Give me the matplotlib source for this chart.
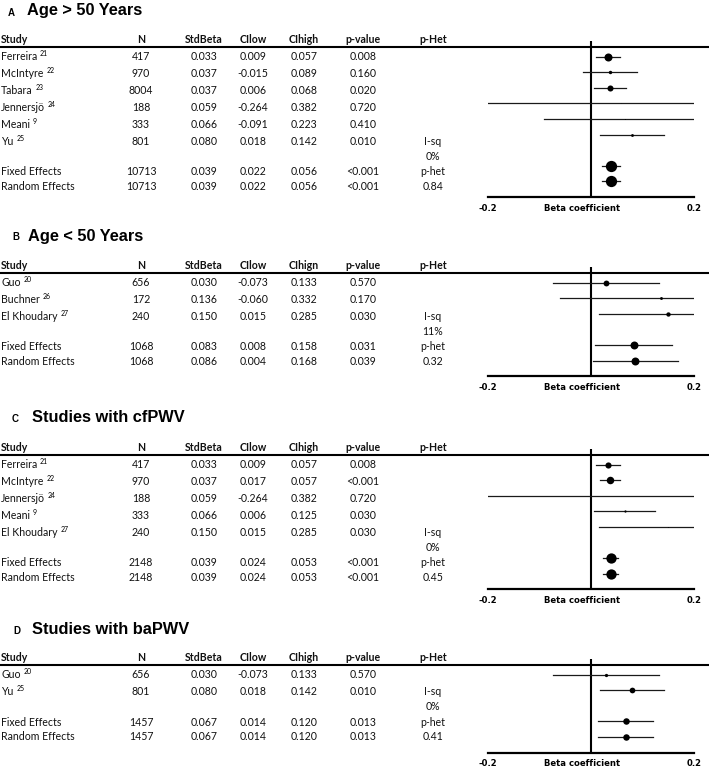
import numpy as np
import matplotlib.pyplot as plt

# A: age > 50 years
a_study = ["Ferreira", "McIntyre", "Tabara", "Jennersjö", "Meani", "Yu"]
a_ref = ["21", "22", "23", "24", "9", "25"]
a_n = [417, 970, 8004, 188, 333, 801]
a_beta = [0.033, 0.037, 0.037, 0.059, 0.066, 0.080]
a_low = [0.009, -0.015, 0.006, -0.264, -0.091, 0.018]
a_high = [0.057, 0.089, 0.068, 0.382, 0.223, 0.142]
a_p = ["0.008", "0.160", "0.020", "0.720", "0.410", "0.010"]
a_pool_n = [10713, 10713]
a_pool_beta = [0.039, 0.039]
a_pool_low = [0.022, 0.022]
a_pool_high = [0.056, 0.056]
a_pool_p = ["<0.001", "<0.001"]
a_isq, a_phet = "0%", "0.84"

# B: age < 50 years
b_study = ["Guo", "Buchner", "El Khoudary"]
b_ref = ["20", "26", "27"]
b_n = [656, 172, 240]
b_beta = [0.030, 0.136, 0.150]
b_low = [-0.073, -0.060, 0.015]
b_high = [0.133, 0.332, 0.285]
b_p = ["0.570", "0.170", "0.030"]
b_pool_n = [1068, 1068]
b_pool_beta = [0.083, 0.086]
b_pool_low = [0.008, 0.004]
b_pool_high = [0.158, 0.168]
b_pool_p = ["0.031", "0.039"]
b_isq, b_phet = "11%", "0.32"

# C: studies with cfPWV
c_study = ["Ferreira", "McIntyre", "Jennersjö", "Meani", "El Khoudary"]
c_ref = ["21", "22", "24", "9", "27"]
c_n = [417, 970, 188, 333, 240]
c_beta = [0.033, 0.037, 0.059, 0.066, 0.150]
c_low = [0.009, 0.017, -0.264, 0.006, 0.015]
c_high = [0.057, 0.057, 0.382, 0.125, 0.285]
c_p = ["0.008", "<0.001", "0.720", "0.030", "0.030"]
c_pool_n = [2148, 2148]
c_pool_beta = [0.039, 0.039]
c_pool_low = [0.024, 0.024]
c_pool_high = [0.053, 0.053]
c_pool_p = ["<0.001", "<0.001"]
c_isq, c_phet = "0%", "0.45"

# D: studies with baPWV
d_study = ["Guo", "Yu"]
d_ref = ["20", "25"]
d_n = [656, 801]
d_beta = [0.030, 0.080]
d_low = [-0.073, 0.018]
d_high = [0.133, 0.142]
d_p = ["0.570", "0.010"]
d_pool_n = [1457, 1457]
d_pool_beta = [0.067, 0.067]
d_pool_low = [0.014, 0.014]
d_pool_high = [0.120, 0.120]
d_pool_p = ["0.013", "0.013"]
d_isq, d_phet = "0%", "0.41"

letters = ["A", "B", "C", "D"]
titles = ["Age > 50 Years", "Age < 50 Years", "Studies with cfPWV", "Studies with baPWV"]
headers = ["Study", "N", "StdBeta", "CIlow", "CIhigh", "p-value", "p-Het"]
headers_b = ["Study", "N", "StdBeta", "CIlow", "CIhign", "p-value", "p-Het"]
pool_names = ["Fixed Effects", "Random Effects"]

panels = [
    (a_study, a_ref, a_n, a_beta, a_low, a_high, a_p,
     a_pool_n, a_pool_beta, a_pool_low, a_pool_high, a_pool_p, a_isq, a_phet, headers),
    (b_study, b_ref, b_n, b_beta, b_low, b_high, b_p,
     b_pool_n, b_pool_beta, b_pool_low, b_pool_high, b_pool_p, b_isq, b_phet, headers_b),
    (c_study, c_ref, c_n, c_beta, c_low, c_high, c_p,
     c_pool_n, c_pool_beta, c_pool_low, c_pool_high, c_pool_p, c_isq, c_phet, headers),
    (d_study, d_ref, d_n, d_beta, d_low, d_high, d_p,
     d_pool_n, d_pool_beta, d_pool_low, d_pool_high, d_pool_p, d_isq, d_phet, headers),
]

# layout in pixels (figure is 709 x 770)
W, H = 709, 770
head_y = [39, 265, 447, 657]
title_y = [11, 236, 418, 630]
letter_x = [8, 12, 12, 13]
title_x = [27, 28, 32, 32]
col_x = [1, 141, 204, 253, 304, 363, 433]
plot_x0, plot_x1 = 488, 694
row_step = 15.6
TXT = "Lato"
TXT_SIZE = 7.6

fig = plt.figure(figsize=(W / 100, H / 100), dpi=100)
bg = fig.add_axes([0, 0, 1, 1])
bg.set_xlim(0, W)
bg.set_ylim(H, 0)
bg.axis("off")


def cell(x, y, s, bold=False, left=False):
    return bg.text(x, y + 3.7, s, family=TXT, fontsize=TXT_SIZE,
                   fontweight="bold" if bold else "normal",
                   ha="left" if left else "center", va="baseline", color="#111111")


for k, p in enumerate(panels):
    (study, ref, n, beta, low, high, pv,
     pn, pbeta, plow, phigh, ppv, isq, phet, heads) = p
    h = head_y[k]

    bg.text(letter_x[k], title_y[k] + 1.5, letters[k], family="Liberation Sans",
            fontsize=7, fontweight="bold", va="center")
    bg.text(title_x[k], title_y[k], titles[k], family="Liberation Sans",
            fontsize=11.8, fontweight="bold", va="center")

    for j, head in enumerate(heads):
        cell(col_x[j], h, head, bold=True, left=(j == 0))
    bg.plot([0, W], [h + 8, h + 8], color="black", lw=1.5, solid_capstyle="butt")

    # table body
    rows_y = [h + 17.5 + 16.9 * i for i in range(len(study))]
    for i, y in enumerate(rows_y):
        t = cell(col_x[0], y, study[i], left=True)
        bg.annotate(ref[i], xy=(1, 1), xycoords=t, xytext=(2, 0.8),
                    textcoords="offset points", family=TXT, fontsize=5,
                    ha="left", va="top")
        vals = [str(n[i]), f"{beta[i]:.3f}", f"{low[i]:.3f}", f"{high[i]:.3f}", pv[i]]
        for j, v in enumerate(vals):
            cell(col_x[j + 1], y, v)
    last = rows_y[-1]
    cell(col_x[6], last, "I-sq")
    cell(col_x[6], last + 15, isq)
    pool_y = [last + 30.5, last + 45]
    pool_het = ["p-het", phet]
    for i, y in enumerate(pool_y):
        cell(col_x[0], y, pool_names[i], left=True)
        vals = [str(pn[i]), f"{pbeta[i]:.3f}", f"{plow[i]:.3f}", f"{phigh[i]:.3f}", ppv[i]]
        for j, v in enumerate(vals):
            cell(col_x[j + 1], y, v)
        cell(col_x[6], y, pool_het[i])

    # forest plot
    ns = len(study)
    y0 = h + 17.5
    top_px = y0 - row_step
    bot_px = y0 + row_step * (ns + 3)
    ax = fig.add_axes([plot_x0 / W, 1 - bot_px / H,
                       (plot_x1 - plot_x0) / W, (bot_px - top_px) / H])
    ax.set_xlim(-0.2, 0.2)
    ax.set_ylim(ns + 3, -1)
    ax.patch.set_alpha(0)
    for s in ["top", "left", "right"]:
        ax.spines[s].set_visible(False)
    ax.spines["bottom"].set_linewidth(1.6)
    ax.set_yticks([])
    ax.set_xticks([-0.2, 0.2])
    ax.set_xticklabels(["-0.2", "0.2"], family="DejaVu Sans", fontweight="bold",
                       fontsize=6.1)
    ax.tick_params(axis="x", length=0, pad=5)
    ax.annotate("Beta coefficient", xy=(-0.018, 0), xycoords=ax.get_xaxis_transform(),
                xytext=(0, -5), textcoords="offset points", ha="center", va="top",
                family="DejaVu Sans", fontweight="bold", fontsize=6.1)
    ax.axvline(0, color="black", lw=1.5)

    # marker size from inverse-variance weight, relative to the pooled estimate
    se = (np.array(high) - np.array(low)) / 3.92
    w = 1 / se ** 2
    pse = (phigh[0] - plow[0]) / 3.92
    pw = 1 / pse ** 2
    pool_px = 4.6 * np.sqrt(ns)
    study_px = pool_px * (w / pw) ** 0.55

    ypos = np.arange(ns)
    for i in range(ns):
        ax.plot([low[i], high[i]], [ypos[i], ypos[i]], color="#1a1a1a", lw=0.9)
        ax.plot(beta[i], ypos[i], "o", color="black", ms=study_px[i] * 0.75, mec="none")
    for i in range(2):
        yp = ns + 1 + i
        ax.plot([plow[i], phigh[i]], [yp, yp], color="#1a1a1a", lw=0.9)
        ax.plot(pbeta[i], yp, "o", color="black", ms=pool_px * 0.72, mec="none")

fig.savefig("out.png", dpi=100)
